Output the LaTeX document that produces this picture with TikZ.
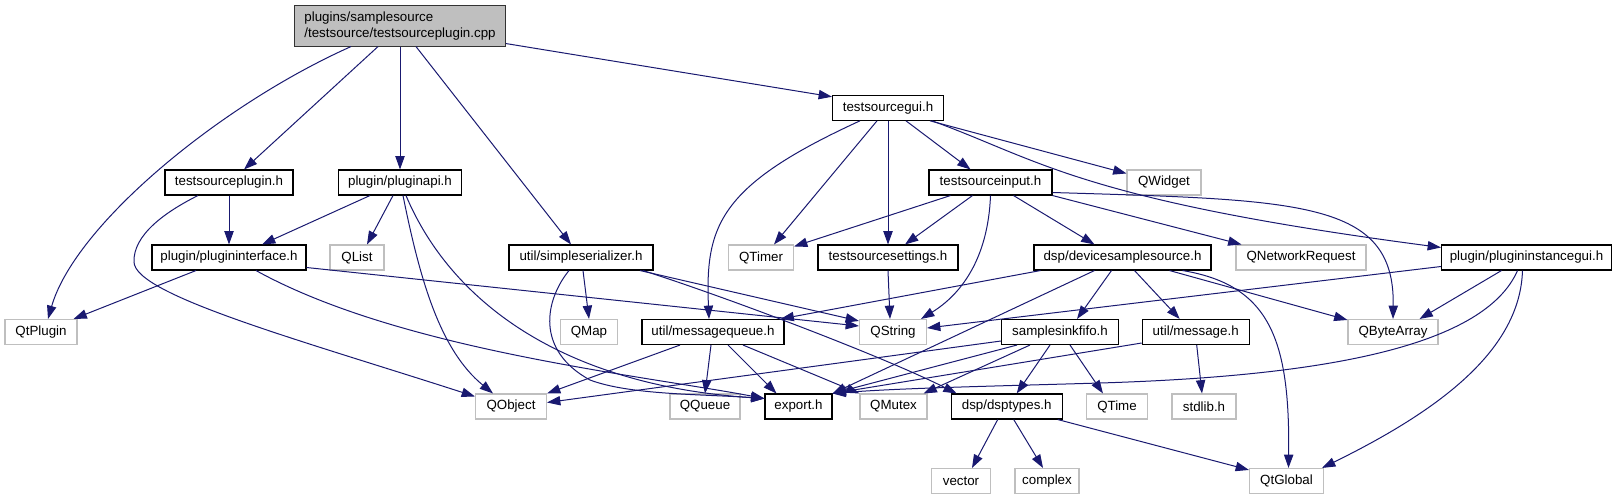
\documentclass[tikz,border=0pt]{standalone}
\usepackage{fontspec}
\setmainfont{Liberation Sans}
\usetikzlibrary{arrows.meta,calc}
\definecolor{edgeblue}{HTML}{191970}
\definecolor{greyL}{HTML}{BFBFBF}
\tikzset{
  box/.style={rectangle, inner sep=0pt, minimum height=18.75pt, line width=0.8pt, font=\fontsize{10pt}{11.5pt}\selectfont},
  doc/.style={box, draw=black, fill=white},
  ext/.style={box, draw=greyL, fill=white},
  rootn/.style={box, draw=black!80, fill=greyL, minimum height=30.2pt, align=left},
  edge/.style={draw=edgeblue, line width=0.75pt, -{Triangle[length=10pt,width=7pt]}, edgeblue}
}
\begin{document}
\begin{tikzpicture}[x=0.75pt,y=-0.75pt]
\useasboundingbox (0,0) rectangle (1617,500);
% row 1
\node[rootn, minimum width=158.25pt] (root) at (400,25.9) {plugins/samplesource\\/testsource/testsourceplugin.cpp};
% row 2
\node[doc, minimum width=83.25pt] (tsgui) at (888,107.8) {testsourcegui.h};
% row 3
\node[doc, minimum width=96pt] (tsplugin) at (229,182.5) {testsourceplugin.h};
\node[doc, minimum width=92.25pt] (pluginapi) at (400,182.5) {plugin/pluginapi.h};
\node[doc, minimum width=92.25pt] (tsinput) at (990.5,182.5) {testsourceinput.h};
\node[ext, minimum width=55.5pt] (qwidget) at (1164,182.5) {QWidget};
% row 4
\node[doc, minimum width=115.5pt] (piface) at (229,257.5) {plugin/plugininterface.h};
\node[ext, minimum width=40.5pt] (qlist) at (357,257.5) {QList};
\node[doc, minimum width=108pt] (serial) at (581,257.5) {util/simpleserializer.h};
\node[ext, minimum width=48.75pt] (qtimer) at (761,257.5) {QTimer};
\node[doc, minimum width=105pt] (tssettings) at (888,257.5) {testsourcesettings.h};
\node[doc, minimum width=132.75pt] (devsrc) at (1122.5,257.5) {dsp/devicesamplesource.h};
\node[ext, minimum width=97.5pt] (qnet) at (1301,257.5) {QNetworkRequest};
\node[doc, minimum width=127.5pt] (pigui) at (1526.5,257.5) {plugin/plugininstancegui.h};
% row 5
\node[ext, minimum width=54pt] (qtplugin) at (41,332) {QtPlugin};
\node[ext, minimum width=42.75pt] (qmap) at (589,332) {QMap};
\node[doc, minimum width=106.5pt] (mqueue) at (713,332) {util/messagequeue.h};
\node[ext, minimum width=50.25pt] (qstring) at (893,332) {QString};
\node[doc, minimum width=87.75pt] (ssfifo) at (1060,332) {samplesinkfifo.h};
\node[doc, minimum width=80.25pt] (message) at (1195.7,332) {util/message.h};
\node[ext, minimum width=67.5pt] (qbyte) at (1393,332) {QByteArray};
% row 6
\node[ext, minimum width=53.25pt] (qobject) at (511,406.5) {QObject};
\node[ext, minimum width=52.5pt] (qqueue) at (705,406.5) {QQueue};
\node[doc, minimum width=50.25pt] (export) at (798.5,406.5) {export.h};
\node[ext, minimum width=50.25pt] (qmutex) at (893.5,406.5) {QMutex};
\node[doc, minimum width=83.25pt] (dsptypes) at (1006.7,406.5) {dsp/dsptypes.h};
\node[ext, minimum width=45.75pt] (qtime) at (1117,406.5) {QTime};
\node[ext, minimum width=48pt] (stdlib) at (1204,406.5) {stdlib.h};
% row 7
\node[ext, minimum width=44.25pt] (vector) at (961,481) {vector};
\node[ext, minimum width=48pt] (complex) at (1047,481) {complex};
\node[ext, minimum width=55.5pt] (qtglobal) at (1286.5,481) {QtGlobal};

% edges from root
\draw[edge] ($(root.south)+(-49,0)$) .. controls (220,105) and (75,225) .. ($(qtplugin.north)+(7,0)$);
\draw[edge] ($(root.south)+(-22,0)$) -- ($(tsplugin.north)+(15,0)$);
\draw[edge] (root.south) -- (pluginapi.north);
\draw[edge] ($(root.south)+(16,0)$) -- ($(serial.north)+(-10,0)$);
\draw[edge] ($(root.south east)+(0,-3)$) -- ($(tsgui.north west)+(0,2)$);
% testsourceplugin.h
\draw[edge] (tsplugin.south) -- (piface.north);
\draw[edge] ($(tsplugin.south)+(-31,0)$) .. controls (165,212) and (133,235) .. (134,262) .. controls (135,295) and (300,340) .. ($(qobject.north west)+(0,3)$);
% pluginapi.h
\draw[edge] ($(pluginapi.south)+(-30,0)$) -- ($(piface.north)+(33,0)$);
\draw[edge] ($(pluginapi.south)+(-7,0)$) -- ($(qlist.north)+(10,0)$);
\draw[edge] ($(pluginapi.south)+(3,0)$) .. controls (420,280) and (440,350) .. ($(qobject.north)+(-18,0)$);
\draw[edge] ($(pluginapi.south)+(6,0)$) .. controls (450,300) and (560,385) .. ($(export.west)+(0,-8)$);
% plugininterface.h
\draw[edge] ($(piface.south)+(-33,0)$) -- ($(qtplugin.north east)+(-4,0)$);
\draw[edge] ($(piface.east)+(0,10)$) -- ($(qstring.west)+(0,-6)$);
\draw[edge] ($(piface.south)+(27,0)$) .. controls (400,350) and (640,375) .. ($(export.west)+(0,-8)$);
% simpleserializer.h
\draw[edge] ($(serial.south)+(2,0)$) -- (qmap.north);
\draw[edge] ($(serial.south)+(59,0)$) -- ($(qstring.north west)+(0,2)$);
\draw[edge] ($(serial.south)+(62,0)$) .. controls (720,295) and (880,355) .. ($(dsptypes.north west)+(6,0)$);
\draw[edge] ($(serial.south)+(-12,0)$) .. controls (545,300) and (535,350) .. (590,380) .. controls (630,395) and (700,394) .. ($(export.west)+(0,-8)$);
% testsourcegui.h
\draw[edge] ($(tsgui.south)+(-28,0)$) .. controls (720,185) and (705,225) .. ($(mqueue.north)+(-4,0)$);
\draw[edge] ($(tsgui.south)+(-11,0)$) -- ($(qtimer.north)+(13,0)$);
\draw[edge] (tsgui.south) -- (tssettings.north);
\draw[edge] ($(tsgui.south)+(18,0)$) -- ($(tsinput.north)+(-20,0)$);
\draw[edge] ($(tsgui.south east)+(-14,0)$) -- ($(qwidget.north west)+(0,4)$);
\draw[edge] ($(tsgui.south east)+(-12,0)$) .. controls (1040,160) and (1080,200) .. ($(pigui.north west)+(0,3)$);
% testsourceinput.h
\draw[edge] ($(tsinput.south)+(-40,0)$) -- ($(qtimer.north east)+(0,2)$);
\draw[edge] ($(tsinput.south)+(-18,0)$) -- ($(tssettings.north)+(17,0)$);
\draw[edge] (tsinput.south) .. controls (988,260) and (960,295) .. ($(qstring.north east)+(-6,0)$);
\draw[edge] ($(tsinput.south)+(23,0)$) -- ($(devsrc.north)+(-28,0)$);
\draw[edge] (tsinput.south east) -- ($(qnet.north west)+(6,0)$);
\draw[edge] ($(tsinput.east)+(0,10)$) .. controls (1300,200) and (1395,200) .. (qbyte.north);
% devicesamplesource.h
\draw[edge] ($(devsrc.south)+(-82,0)$) -- ($(mqueue.north east)+(-4,0)$);
\draw[edge] ($(devsrc.south)+(-28,0)$) -- (export.north east);
\draw[edge] ($(devsrc.south)+(-11,0)$) -- ($(ssfifo.north)+(17,0)$);
\draw[edge] ($(devsrc.south)+(12,0)$) -- ($(message.north)+(-16,0)$);
\draw[edge] ($(devsrc.south)+(47,0)$) -- ($(qbyte.north west)+(0,1)$);
\draw[edge] ($(devsrc.south)+(60,0)$) .. controls (1270,285) and (1290,340) .. ($(qtglobal.north)+(2,0)$);
% plugininstancegui.h
\draw[edge] ($(pigui.west)+(0,9)$) -- ($(qstring.east)+(0,-4)$);
\draw[edge] ($(pigui.south)+(-25,0)$) -- ($(qbyte.north east)+(-19,0)$);
\draw[edge] ($(pigui.south)+(-4,0)$) .. controls (1520,350) and (1440,410) .. ($(qtglobal.north east)+(-2,0)$);
\draw[edge] ($(pigui.south)+(-9,0)$) .. controls (1485,345) and (1330,376) .. (1100,383) .. controls (1000,386) and (900,388) .. (export.north east);
% testsourcesettings.h
\draw[edge] (tssettings.south) -- ($(qstring.north)+(-3,0)$);
% messagequeue.h
\draw[edge] ($(mqueue.south)+(-33,0)$) -- (qobject.north east);
\draw[edge] ($(mqueue.south)+(-2,0)$) -- (qqueue.north);
\draw[edge] ($(mqueue.south)+(15,0)$) -- ($(export.north)+(-22,0)$);
\draw[edge] ($(mqueue.south)+(30,0)$) -- (qmutex.north west);
% samplesinkfifo.h
\draw[edge] ($(ssfifo.west)+(0,9)$) -- ($(qobject.east)+(0,-4)$);
\draw[edge] ($(ssfifo.south)+(-43,0)$) -- (export.north east);
\draw[edge] ($(ssfifo.south)+(-30,0)$) -- ($(qmutex.north east)+(-4,0)$);
\draw[edge] ($(ssfifo.south)+(-10,0)$) -- ($(dsptypes.north)+(10,0)$);
\draw[edge] ($(ssfifo.south)+(10,0)$) -- ($(qtime.north)+(-14,0)$);
% util/message.h
\draw[edge] ($(message.west)+(0,11)$) -- (export.north east);
\draw[edge] ($(message.south)+(1,0)$) -- ($(stdlib.north)+(-2,0)$);
% dsptypes.h
\draw[edge] ($(dsptypes.south)+(-9,0)$) -- ($(vector.north)+(11,0)$);
\draw[edge] ($(dsptypes.south)+(7,0)$) -- ($(complex.north)+(-4,0)$);
\draw[edge] ($(dsptypes.south east)+(-5,0)$) -- ($(qtglobal.north west)+(0,2)$);
\end{tikzpicture}
\end{document}
